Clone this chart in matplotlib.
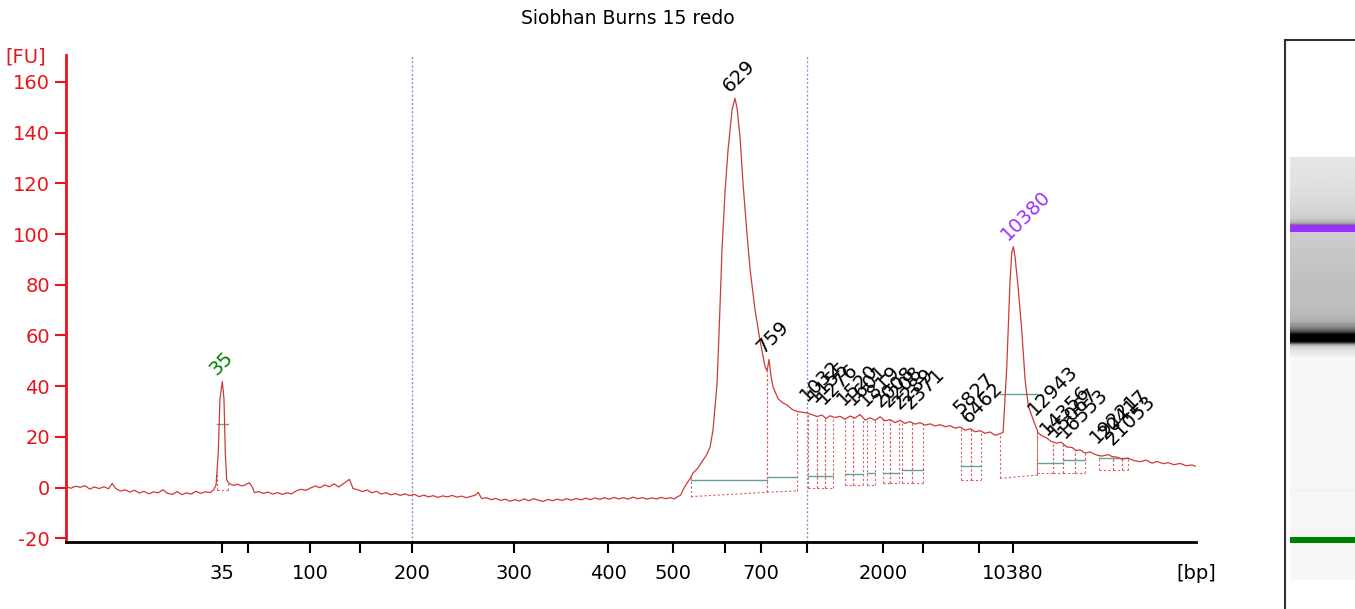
import numpy as np
import matplotlib
matplotlib.use('Agg')
import matplotlib.pyplot as plt

# ladder: fragment size (bp) vs migration time (s)
ladder_bp = [35, 50, 100, 150, 200, 300, 400, 500, 600, 700, 1000, 2000, 3000, 7000, 10380]
ladder_time = [43.0, 45.2, 50.46, 54.69, 59.1, 67.74, 75.7, 81.2, 85.61, 88.66, 92.55, 98.99, 102.38, 107.12, 110.0]
ladder_shown = [35, 100, 200, 300, 400, 500, 700, 2000, 10380]

# electropherogram trace (time in s, fluorescence in FU)
trace_time = [
    29.8, 30.2, 30.6, 31.0, 31.4, 31.8, 32.2, 32.6, 33.0, 33.4, 33.7, 34.0, 34.4, 34.8, 35.2, 35.6,
    36.0, 36.4, 36.8, 37.2, 37.6, 38.0, 38.4, 38.8, 39.2, 39.6, 40.0, 40.4, 40.8, 41.2, 41.6, 42.0,
    42.3, 42.5, 42.69, 42.83, 43.03, 43.17, 43.28, 43.4, 43.51, 43.68, 44.0, 44.3, 44.7, 45.0, 45.3,
    45.55, 45.75, 46.1, 46.5, 46.9, 47.3, 47.7, 48.1, 48.5, 48.9, 49.3, 49.7, 50.1, 50.5, 50.9, 51.3,
    51.7, 52.1, 52.5, 52.9, 53.3, 53.8, 54.1, 54.5, 54.9, 55.3, 55.7, 56.1, 56.5, 56.9, 57.3, 57.7,
    58.1, 58.5, 58.9, 59.3, 59.7, 60.1, 60.5, 60.9, 61.3, 61.7, 62.1, 62.5, 62.9, 63.3, 63.7, 64.1,
    64.5, 64.7, 65.0, 65.4, 65.8, 66.2, 66.6, 67.0, 67.4, 67.8, 68.2, 68.6, 69.0, 69.4, 69.8, 70.2,
    70.6, 71.0, 71.4, 71.8, 72.2, 72.6, 73.0, 73.4, 73.8, 74.2, 74.6, 75.0, 75.4, 75.8, 76.2, 76.6,
    77.0, 77.4, 77.8, 78.2, 78.6, 79.0, 79.4, 79.8, 80.2, 80.6, 81.0, 81.3, 81.6, 81.85, 82.1, 82.39,
    82.65, 82.9, 83.3, 83.74, 84.05, 84.34, 84.59, 84.93, 85.1, 85.35, 85.61, 85.86, 86.2, 86.45,
    86.62, 86.88, 87.13, 87.47, 87.73, 88.15, 88.57, 89.0, 89.17, 89.33, 89.5, 89.67, 90.1, 90.5,
    90.86, 91.3, 91.71, 92.1, 92.55, 93.0, 93.4, 93.82, 94.16, 94.5, 94.92, 95.35, 95.77, 96.2,
    96.62, 97.04, 97.47, 97.89, 98.31, 98.74, 99.16, 99.58, 100.0, 100.43, 100.85, 101.28, 101.7,
    102.12, 102.55, 102.97, 103.4, 103.82, 104.24, 104.67, 105.09, 105.51, 105.94, 106.36, 106.78,
    107.21, 107.63, 108.05, 108.48, 108.9, 109.16, 109.47, 109.75, 109.89, 110.03, 110.17, 110.45,
    110.74, 111.02, 111.3, 111.72, 112.14, 112.46, 112.86, 113.22, 113.7, 114.07, 114.55, 115.0,
    115.34, 115.68, 116.1, 116.52, 117.09, 117.54, 118.05, 118.39, 118.78, 119.23, 119.74, 120.25,
    120.76, 121.27, 121.77, 122.2, 122.7, 123.13, 123.64, 124.15, 124.65, 125.16, 125.42]
trace_fu = [
    0.4, -0.3, 0.5, 0.1, 0.7, -0.6, 0.2, -0.4, 0.3, -0.5, 1.6, -0.4, -1.4, -0.9, -1.8, -1.1,
    -2.2, -1.5, -2.5, -1.7, -2.1, -0.9, -2.3, -2.7, -1.6, -2.8, -2.1, -2.6, -1.5, -2.3, -1.7, -2.0,
    -0.9, 1.0, 14, 35, 41.8, 35, 14, 3.0, 2.2, 1.4, 0.8, 1.3, 0.6, 1.1, 1.9,
    0.4, -2.0, -1.6, -2.3, -1.8, -2.6, -2.0, -2.7, -2.1, -2.5, -1.3, -0.7, -1.1, -0.2, 0.6, -0.1,
    1.0, 0.3, 1.4, 0.2, 1.6, 3.2, -0.4, -0.9, -1.6, -1.0, -2.1, -1.5, -2.6, -2.0, -2.9, -2.4,
    -3.1, -2.5, -3.2, -2.7, -3.6, -3.0, -3.7, -3.2, -3.9, -3.3, -3.7, -3.1, -3.8, -3.4, -4.0, -3.5,
    -2.9, -1.9, -4.4, -4.0, -4.8, -4.3, -5.1, -4.6, -5.4, -4.8, -5.3, -4.5, -5.2, -4.4, -5.0, -5.5,
    -4.7, -5.2, -4.6, -5.1, -4.4, -5.0, -4.3, -4.9, -4.2, -4.8, -4.1, -4.7, -4.0, -4.6, -3.9, -4.5,
    -4.0, -4.6, -3.8, -4.4, -4.0, -4.6, -4.1, -4.5, -3.9, -4.4, -4.0, -4.5, -3.6, -3.0, -0.5, 1.8,
    3.5, 5.7, 7.6, 10.8, 12.9, 16, 22.7, 41, 61, 93.7, 117, 133, 149, 153.5,
    150, 138, 120, 100, 86, 70, 58, 47.6, 46, 50.5, 44, 39.7, 35, 33.4,
    32.5, 30.8, 30, 29.7, 29.4, 28.7, 28.0, 28.6, 27.2, 28.3, 27.6, 28.1, 26.9, 28.2,
    27.4, 28.8, 26.6, 27.5, 26.5, 27.9, 26.3, 26.8, 25.6, 26.5, 25.3, 26.0, 25.0,
    25.6, 24.6, 25.1, 24.3, 24.8, 24.0, 24.4, 23.4, 23.9, 22.6, 23.2, 22.0,
    22.4, 21.4, 21.9, 20.6, 21.2, 21.8, 47.7, 82, 92.5, 95, 91, 78,
    62, 42.4, 32, 26.6, 21.5, 20.4, 19.5, 18.2, 17.5, 17.9, 16, 15.8,
    14.6, 14.8, 13.6, 14.0, 12.8, 12.4, 13.0, 12.2, 12.0, 11.2, 11.6, 10.6,
    10.2, 10.8, 9.6, 10.3, 9.4, 9.8, 9.0, 9.5, 8.6, 8.9, 8.4]

# called peaks
peak_label = ['35', '629', '759', '1032', '1155', '1276', '1520', '1601', '1819', '2008', '2208',
              '2289', '2371', '5827', '6462', '10380', '12943', '14356', '15067', '16553',
              '19221', '20417', '21053']
peak_time = [43.0, 86.45, 89.33, 92.98, 93.65, 94.42, 96.11, 96.87, 97.97, 99.24, 99.92,
             100.85, 101.79, 106.02, 106.7, 110.0, 112.29, 113.3, 113.98, 114.83,
             117.54, 118.3, 118.89]
peak_height = [41.8, 153.5, 50.5, 31.5, 31, 30.5, 30, 30, 29.5, 29, 29,
               28.5, 28.5, 26.6, 23, 95, 26, 18, 17.5, 17, 15, 16.5, 14]
peak_start = [42.58, 82.73, 89.16, 92.64, 93.4, 94.08, 95.77, 96.45, 97.63, 98.99, 99.58,
              100.6, 101.45, 105.6, 106.44, 108.9, 112.03, 113.39, 114.24, 115.25,
              117.29, 118.47, 119.23]
peak_end = [43.51, 89.16, 91.71, 93.4, 94.08, 94.76, 96.45, 97.3, 98.31, 99.58, 100.35,
            101.45, 102.38, 106.44, 107.29, 112.03, 113.39, 114.24, 115.25, 116.1,
            118.47, 119.23, 119.74]
peak_base_start = [-1, -3.6, -1.9, 0, 0, 0, 1, 1, 1, 1.9, 1.9, 1.9, 1.9, 3, 3, 3.6,
                   5.8, 5.8, 5.8, 5.8, 6.9, 6.9, 6.9]
peak_base_end = [-1, -1.9, -1.3, 0, 0, 0, 1, 1, 1, 1.9, 1.9, 1.9, 1.9, 3, 3, 4.9,
                 5.8, 5.8, 5.8, 5.8, 6.9, 6.9, 6.9]
peak_width_level = [25, 2.9, 4.3, 4.5, 4.5, 4.5, 5.3, 5.3, 5.8, 5.9, 5.9, 6.9, 6.9, 8.5, 8.5,
                    36.9, 9.8, 9.8, 10.9, 10.9, 11.5, 11.5, 11.5]

region_bp = [200, 1000]

RED = '#e8141c'
TRACE = '#cc3a3a'
TEAL = '#5fa39a'
DOT = '#e06060'
PURPLE = '#9b30ff'
GREEN = '#008000'

plt.rcParams['font.family'] = ['DejaVu Sans']
plt.rcParams['axes.unicode_minus'] = False

fig = plt.figure(figsize=(13.55, 6.09), dpi=100)
ax = fig.add_axes([0.0487, 0.110, 0.834, 0.800])

ax.plot(trace_time, trace_fu, color=TRACE, lw=0.9, zorder=3)

# region markers
for bp in region_bp:
    ax.axvline(np.interp(bp, ladder_bp, ladder_time), color='#9090cc', lw=1, ls=(0, (1.5, 1.5)), zorder=1)

# peak windows
for i in range(len(peak_label)):
    t0, t1 = peak_start[i], peak_end[i]
    b0, b1 = peak_base_start[i], peak_base_end[i]
    ax.plot([t0, t1], [b0, b1], color=DOT, lw=0.8, ls=(0, (2, 2)), zorder=2)
    for t, b in ((t0, b0), (t1, b1)):
        ax.plot([t, t], [b, np.interp(t, trace_time, trace_fu)], color=DOT, lw=0.8,
                ls=(0, (2, 2)), zorder=2)
    ax.plot([t0, t1], [peak_width_level[i]] * 2, color=TEAL, lw=1, zorder=2)

for lab, t, h in zip(peak_label, peak_time, peak_height):
    c = GREEN if lab == '35' else PURPLE if lab == '10380' else 'black'
    ax.annotate(lab, (t, h), xytext=(-4, 4), textcoords='offset points', rotation=45,
                rotation_mode='anchor', ha='left', va='baseline', fontsize=14, color=c)

ax.set_xlim(29.79, 125.5)
ax.set_ylim(-21.5, 170.7)
ax.set_xticks(ladder_time)
ax.set_xticklabels([str(b) if b in ladder_shown else '' for b in ladder_bp], fontsize=14)
ax.set_yticks(range(-20, 161, 20))
ax.tick_params(axis='y', colors=RED, labelsize=14, length=8, width=1.5)
ax.tick_params(axis='x', colors='black', labelsize=14, length=8, width=1.5, pad=8)
ax.spines['left'].set_color(RED)
ax.spines['left'].set_linewidth(2)
ax.spines['bottom'].set_linewidth(2)
ax.spines['top'].set_visible(False)
ax.spines['right'].set_visible(False)

fig.text(0.004, 0.906, '[FU]', color=RED, fontsize=14, va='center', ha='left')
fig.text(0.868, 0.059, '[bp]', color='black', fontsize=14, va='center', ha='left')
fig.text(0.4635, 0.970, 'Siobhan Burns 15 redo', fontsize=13.5, ha='center', va='center')

# gel view
frame = fig.add_axes([0.9483, -0.01, 0.06, 0.944])
frame.set_xticks([])
frame.set_yticks([])
for s in ('right', 'bottom'):
    frame.spines[s].set_visible(False)
for s in ('left', 'top'):
    frame.spines[s].set_color('#303030')
    frame.spines[s].set_linewidth(1.5)

gel = fig.add_axes([0.952, 0.0476, 0.048, 0.6946])
gel_t = np.linspace(34.4, 125.4, 424)
gel_fu = np.interp(gel_t, trace_time, trace_fu)
gray = np.clip(0.97 - np.clip(gel_fu, 0, None) / 125, 0, 1)
gel.imshow(np.repeat(gray[:, None], 2, axis=1), cmap='gray', vmin=0, vmax=1, origin='lower',
           extent=[0, 1, 34.4, 125.4], aspect='auto', interpolation='bilinear')
gel.axhspan(110.0 - 0.75, 110.0 + 0.75, color=PURPLE, lw=0)
gel.axhspan(43.0 - 0.6, 43.0 + 0.6, color=GREEN, lw=0)
gel.set_ylim(34.4, 125.4)
gel.axis('off')

fig.savefig('out.png', dpi=100)
